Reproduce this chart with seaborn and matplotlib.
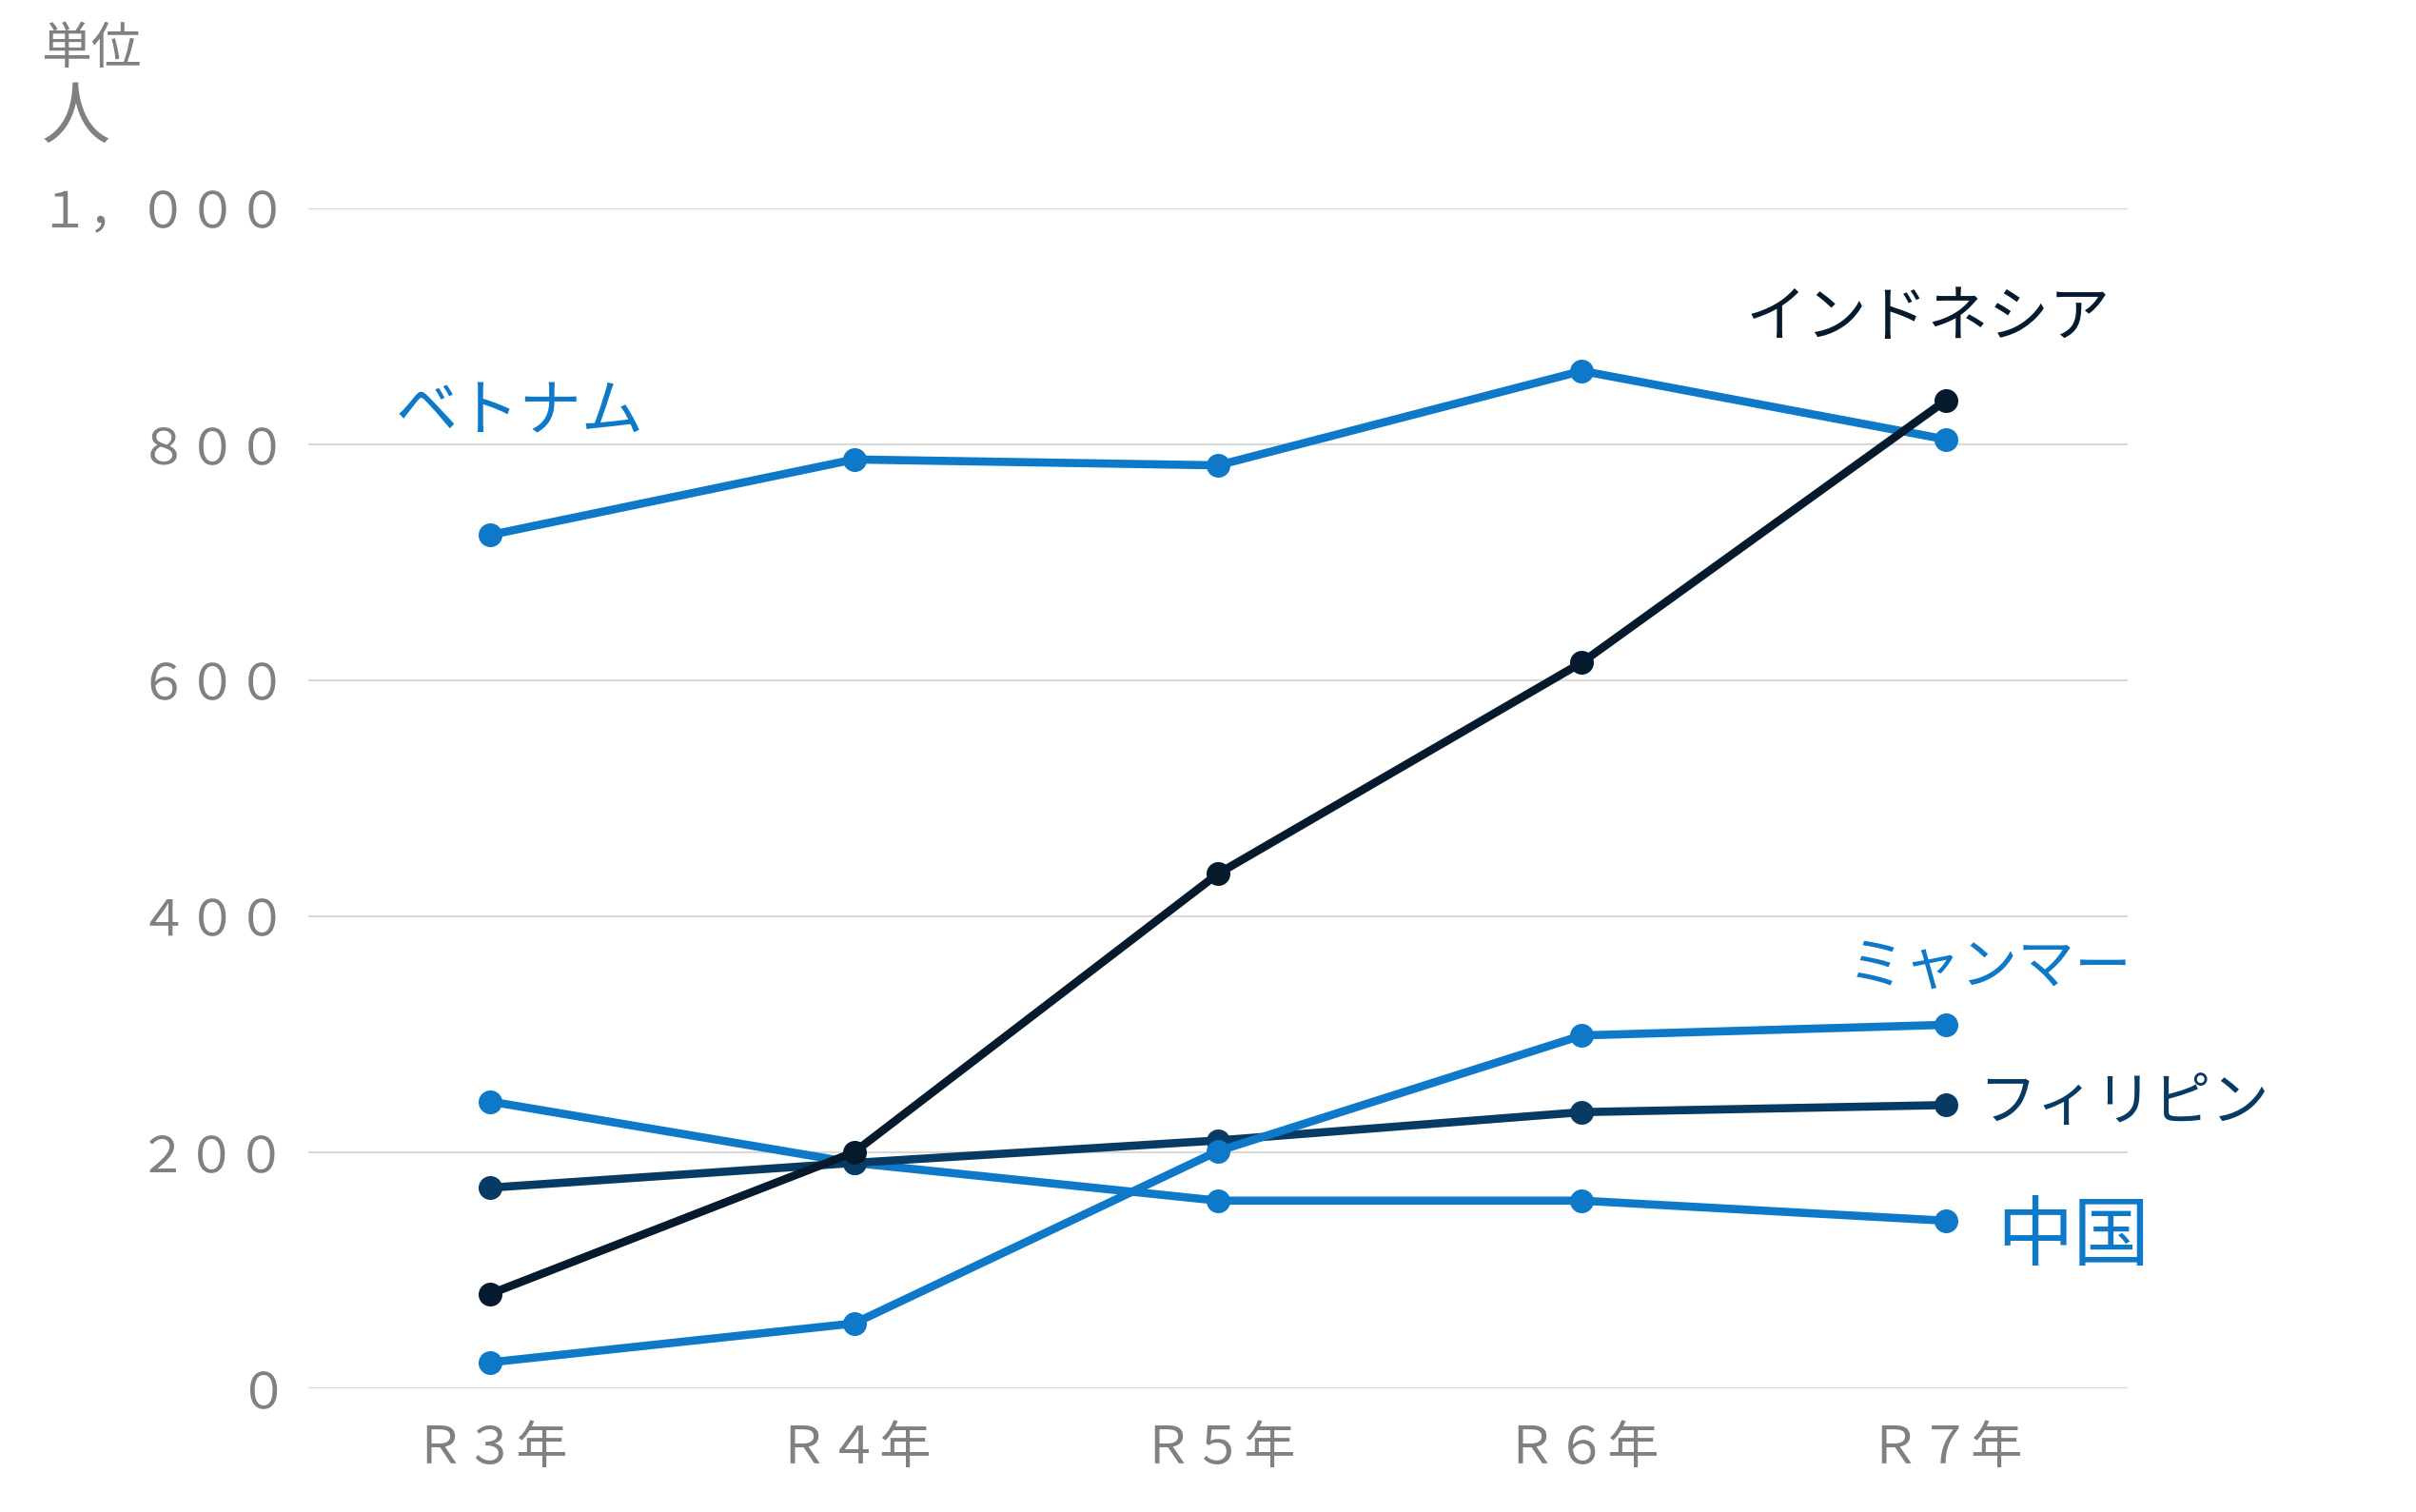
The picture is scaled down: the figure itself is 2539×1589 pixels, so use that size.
import pandas as pd
import matplotlib
matplotlib.use("Agg")
import matplotlib.pyplot as plt
import seaborn as sns

# Data (人)
years = ["Ｒ３年", "Ｒ４年", "Ｒ５年", "Ｒ６年", "Ｒ７年"]
vietnam = [723, 787, 782, 862, 804]
indonesia = [80, 200, 436, 615, 837]
myanmar = [22, 55, 201, 299, 308]
philippines = [170, 191, 210, 234, 240]
china = [243, 191, 159, 159, 142]

series_names = ["ベトナム", "インドネシア", "ミャンマー", "フィリピン", "中国"]
series_values = [vietnam, indonesia, myanmar, philippines, china]

blue = "#0E78C9"
colors = {"ベトナム": blue, "インドネシア": "#051A2D", "ミャンマー": blue,
          "フィリピン": "#083B64", "中国": blue}

rows = []
for name, vals in zip(series_names, series_values):
    for yr, v in zip(years, vals):
        rows.append({"year": yr, "value": v, "series": name})
df = pd.DataFrame(rows)

sns.set_style("white")
plt.rcParams['font.family'] = ['Noto Sans CJK JP', 'DejaVu Sans']

fig = plt.figure(figsize=(25.39, 15.89), dpi=100)
ax = fig.add_axes([0.1276, 0.0818, 0.8807 - 0.1276, 0.8624 - 0.0818])

sns.lineplot(data=df, x="year", y="value", hue="series", palette=colors,
             hue_order=["中国", "フィリピン", "ミャンマー", "ベトナム", "インドネシア"],
             marker="o", markersize=18, markeredgewidth=0, linewidth=6.2,
             sort=False, legend=False, ax=ax)

ax.set_xlim(-0.5, 4.5)
ax.set_ylim(0, 1000)
ax.set_yticks([0, 200, 400, 600, 800, 1000])
ax.set_yticklabels(["０", "２００", "４００", "６００", "８００", "１，０００"])
ax.yaxis.grid(True, color="#D9D9D9", linewidth=1.6)
ax.xaxis.grid(False)
for s in ax.spines.values():
    s.set_visible(False)
ax.tick_params(axis="y", length=0, pad=16, labelsize=37.5, labelcolor="#808080")
ax.tick_params(axis="x", length=0, pad=26, labelsize=39, labelcolor="#808080")
ax.set_xlabel("")
ax.set_ylabel("")

# unit label
fig.text(0.017, 0.985, "単位", fontsize=38, color="#808080", va="top", ha="left")
fig.text(0.017, 0.945, "人", fontsize=52, color="#808080", va="top", ha="left")

# series labels
ax.text(0.08, 826, "ベトナム", fontsize=47, color=blue, ha="center", va="center")
ax.text(3.95, 906, "インドネシア", fontsize=46, color="#051A2D", ha="center", va="center")
ax.text(4.12, 356, "ミャンマー", fontsize=43, color=blue, ha="center", va="center", clip_on=False)
ax.text(4.49, 241, "フィリピン", fontsize=44, color="#083B64", ha="center", va="center", clip_on=False)
ax.text(4.35, 128, "中国", fontsize=58, color=blue, ha="center", va="center", clip_on=False)

fig.savefig("out.png", dpi=100)
